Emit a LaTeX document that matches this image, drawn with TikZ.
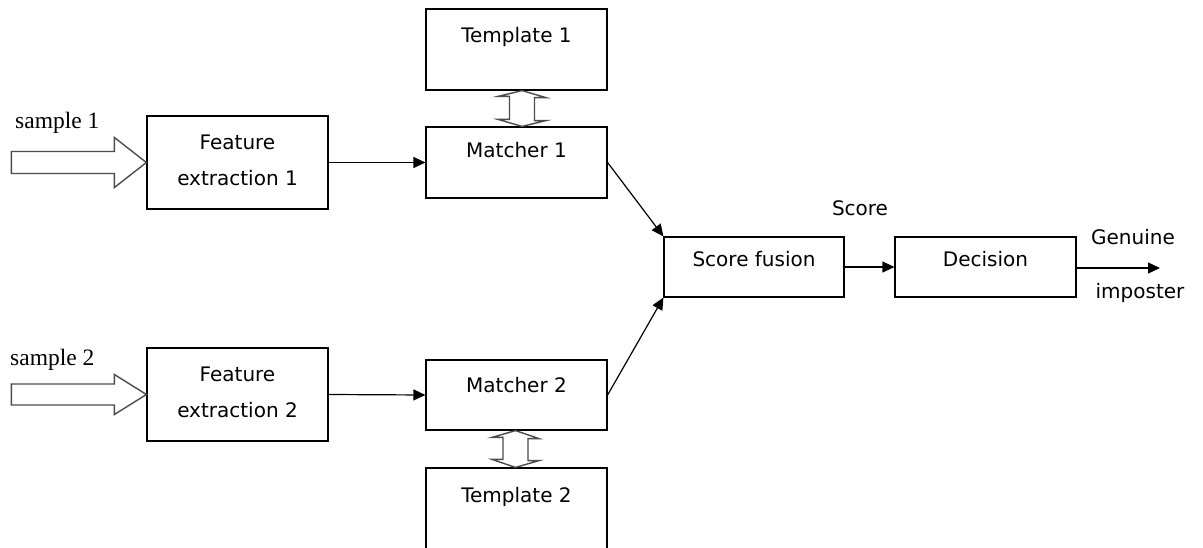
\documentclass[tikz,border=0pt]{standalone}
\usepackage{fontspec}
\setmainfont{DejaVu Sans}
\newfontfamily\samplefont{Liberation Serif}
\usetikzlibrary{arrows.meta,calc}
\begin{document}
\begin{tikzpicture}[x=1pt,y=-1pt,
  box/.style={draw, line width=1.2pt, rectangle, inner sep=0pt,
    minimum width=181pt, text height=15pt,
    font=\fontsize{20}{36}\selectfont, align=center},
  twoline/.style={text height=51pt, text depth=5pt},
  link/.style={line width=1.2pt, -{Triangle[length=12pt,width=11pt]}},
  hollow/.style={draw=black!70, line width=1.4pt, fill=white, line join=miter},
  tag/.style={font=\fontsize{20}{24}\selectfont, inner sep=0pt, anchor=base},
  stag/.style={font=\samplefont\fontsize{23.5}{28}\selectfont, inner sep=0pt, anchor=base west}]
\clip (0,0) rectangle (1203,548);
\fill[white] (0,0) rectangle (1203,548);

% processing blocks
\node[box, twoline, minimum height=93pt] (fe1) at (237.5,162.5) {Feature\\extraction 1};
\node[box, twoline, minimum height=93pt] (fe2) at (237.5,394.5) {Feature\\extraction 2};
\node[box, minimum height=81pt, text depth=29pt] (t1)  at (516.5,49.5)  {Template 1};
\node[box, minimum height=71pt, text depth=25pt] (m1)  at (516.5,162.5) {Matcher 1};
\node[box, minimum height=70pt, text depth=21pt] (m2)  at (516.5,395)   {Matcher 2};
\node[box, minimum height=92pt, text depth=39pt] (t2)  at (516.5,514)   {Template 2};
\node[box, minimum width=180pt, minimum height=60pt, text depth=16pt] (sf)  at (754,267) {Score fusion};
\node[box, minimum height=60pt, text depth=16pt] (dec) at (985.5,267)   {Decision};

% input samples (hollow block arrows)
\node[stag] (s1) at (15,129) {sample 1};
\node[stag] (s2) at (10,365) {sample 2};
\draw[hollow] (fe1.west) -- ++(-32,-25) -- ++(0,14) -- ++(-103,0) -- ++(0,22)
  -- ++(103,0) -- ++(0,14) -- cycle;
\draw[hollow] (fe2.west) -- ++(-32,-20) -- ++(0,9.5) -- ++(-103,0) -- ++(0,21)
  -- ++(103,0) -- ++(0,9.5) -- cycle;

% template <-> matcher exchange (hollow double arrows)
\coordinate (a1) at ($(t1.south)+(5.5,0)$);
\coordinate (b1) at ($(m1.north)+(5.5,0)$);
\draw[hollow] (a1) -- ++(24,7) -- ++(-11.5,0) -- ++(0,23) -- ++(11.5,0) -- (b1)
  -- ++(-24,-7) -- ++(11.5,0) -- ++(0,-23) -- ++(-11.5,0) -- cycle;
\coordinate (a2) at ($(m2.south)+(-1,0)$);
\coordinate (b2) at ($(t2.north)+(-1,0)$);
\draw[hollow] (a2) -- ++(23.5,8) -- ++(-11,0) -- ++(0,22) -- ++(11,0) -- (b2)
  -- ++(-23.5,-8) -- ++(11,0) -- ++(0,-22) -- ++(-11,0) -- cycle;

% signal flow
\draw[link] (fe1.east) -- (m1.west);
\draw[link] (fe2.east) -- (m2.west);
\draw[link] (m1.east) -- (sf.north west);
\draw[link] (m2.east) -- (sf.south west);
\draw[link] (sf.east) -- (dec.west);
\coordinate (out) at (1160,268);
\draw[link] (dec.east |- out) -- (out);

% annotations
\node[tag] (score) at (860,216) {Score};
\node[tag] (gen)   at (1133,245) {Genuine};
\node[tag] (imp)   at (1140,299) {imposter};
\end{tikzpicture}
\end{document}
